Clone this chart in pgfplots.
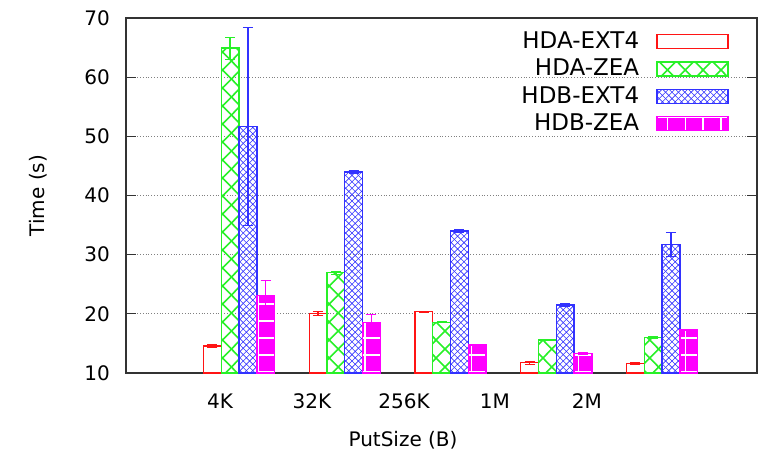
\documentclass[border=0pt]{standalone}
\usepackage{fontspec}
\setmainfont{DejaVu Sans}
\usepackage{pgfplots}
\pgfplotsset{compat=1.18}
\usetikzlibrary{patterns}

\pgfdeclarepatternformonly{bigx}{\pgfpoint{-0.5pt}{-0.5pt}}{\pgfpoint{9.4pt}{9.5pt}}{\pgfpoint{8.9pt}{9pt}}{%
  \pgfsetlinewidth{0.8pt}%
  \pgfpathmoveto{\pgfpointorigin}\pgfpathlineto{\pgfpoint{8.9pt}{9pt}}%
  \pgfpathmoveto{\pgfpoint{0pt}{9pt}}\pgfpathlineto{\pgfpoint{8.9pt}{0pt}}%
  \pgfusepath{stroke}}
\pgfdeclarepatternformonly{smallx}{\pgfpoint{-0.2pt}{-0.2pt}}{\pgfpoint{3.4pt}{3.4pt}}{\pgfpoint{3.2pt}{3.2pt}}{%
  \pgfsetlinewidth{0.3pt}%
  \pgfpathmoveto{\pgfpointorigin}\pgfpathlineto{\pgfpoint{3.2pt}{3.2pt}}%
  \pgfpathmoveto{\pgfpoint{0pt}{3.2pt}}\pgfpathlineto{\pgfpoint{3.2pt}{0pt}}%
  \pgfusepath{stroke}}
\pgfdeclarepatternformonly{wgrid}{\pgfpoint{-0.5pt}{-0.5pt}}{\pgfpoint{9.4pt}{9pt}}{\pgfpoint{8.9pt}{8.5pt}}{%
  \pgfsetlinewidth{0.7pt}%
  \pgfpathmoveto{\pgfpointorigin}\pgfpathlineto{\pgfpoint{8.9pt}{0pt}}%
  \pgfpathmoveto{\pgfpoint{4.45pt}{0pt}}\pgfpathlineto{\pgfpoint{4.45pt}{8.5pt}}%
  \pgfusepath{stroke}}

\definecolor{cRed}{RGB}{255,20,20}
\definecolor{cGreen}{RGB}{40,240,40}
\definecolor{cBlue}{RGB}{50,50,255}
\definecolor{cMag}{RGB}{255,0,255}

\pgfplotstableread{
x y e
0 14.56 0.25
1 20.09 0.3
2 20.36 0.1
3 11.75 0.25
4 11.6 0.2
}\hdaext
\pgfplotstableread{
x y e
0 64.9 1.9
1 26.95 0.3
2 18.57 0.1
3 15.58 0.1
4 16.03 0.1
}\hdazea
\pgfplotstableread{
x y e
0 51.63 16.7
1 44.0 0.2
2 34.0 0.2
3 21.5 0.2
4 31.75 2.1
}\hdbext
\pgfplotstableread{
x y e
0 23.07 2.5
1 18.57 1.35
2 14.73 0.1
3 13.32 0.15
4 17.27 0.1
}\hdbzea

\begin{document}
\begin{tikzpicture}
\path[use as bounding box] (0,0) rectangle (382pt,228.5pt);
\begin{axis}[
  at={(63pt,42pt)}, anchor=south west,
  width=315.5pt, height=177.5pt, scale only axis,
  ybar, bar width=0.168,
  xmin=-1.069, xmax=4.898, ymin=10, ymax=70,
  ytick={10,20,...,70},
  xtick={-0.18,0.69,1.56,2.42,3.29},
  xticklabels={4K,32K,256K,1M,2M},
  x tick style={draw=none},
  extra x ticks={-0.084,0.916,1.916,2.916,3.916},
  extra x tick labels={},
  extra x tick style={major tick length=4pt, tick style={draw=gray}},
  tick align=inside,
  major tick length=5pt,
  ymajorgrids,
  grid style={densely dotted, gray, line width=0.5pt},
  axis line style={line width=0.8pt, black!80},
  tick style={black!80, line width=0.6pt},
  /pgf/number format/assume math mode=true,
  tick label style={font=\fontsize{10}{12}\selectfont},
  yticklabel style={xshift=-4.5pt},
  xticklabel style={yshift=-7pt},
  xlabel={PutSize (B)}, ylabel={Time (s)},
  label style={font=\fontsize{10}{12}\selectfont},
  xlabel style={at={(axis description cs:0.439,-0.189)}, anchor=center},
  ylabel style={at={(axis description cs:-0.139,0.5)}, anchor=center},
  legend plot pos=right,
  legend cell align=right,
  legend style={at={(axis description cs:0.965,0.985)}, anchor=north east,
    draw=none, fill=none, font=\fontsize{11.5}{13}\selectfont, row sep=-0.2pt},
  every axis plot post/.append style={
    legend image code/.code={\path (0pt,0pt); \draw[##1] (6.5pt,-3.5pt) rectangle (42pt,3.5pt);}},
  error bars/y dir=both, error bars/y explicit,
]
\addplot+[bar shift=-0.252, draw=cRed, fill=white, line width=0.7pt,
  error bars/error bar style={cRed, line width=0.7pt},
  error bars/error mark options={rotate=90, mark size=2.5pt, cRed}]
  table[x=x, y=y, y error=e] {\hdaext};
\addlegendentry{HDA-EXT4}
\addplot+[bar shift=-0.084, draw=cGreen, fill=white, pattern=bigx, pattern color=cGreen, line width=0.7pt,
  error bars/error bar style={cGreen, line width=0.7pt},
  error bars/error mark options={rotate=90, mark size=2.5pt, cGreen}]
  table[x=x, y=y, y error=e] {\hdazea};
\addlegendentry{HDA-ZEA}
\addplot+[bar shift=0.084, draw=cBlue, fill=white, pattern=smallx, pattern color=cBlue, line width=0.7pt,
  error bars/error bar style={cBlue, line width=0.7pt},
  error bars/error mark options={rotate=90, mark size=2.5pt, cBlue}]
  table[x=x, y=y, y error=e] {\hdbext};
\addlegendentry{HDB-EXT4}
\addplot+[bar shift=0.252, draw=cMag, fill=cMag, line width=0.7pt,
  postaction={pattern=wgrid, pattern color=white},
  error bars/error bar style={cMag, line width=0.7pt},
  error bars/error mark options={rotate=90, mark size=2.5pt, cMag}]
  table[x=x, y=y, y error=e] {\hdbzea};
\addlegendentry{HDB-ZEA}
\end{axis}
\end{tikzpicture}
\end{document}
